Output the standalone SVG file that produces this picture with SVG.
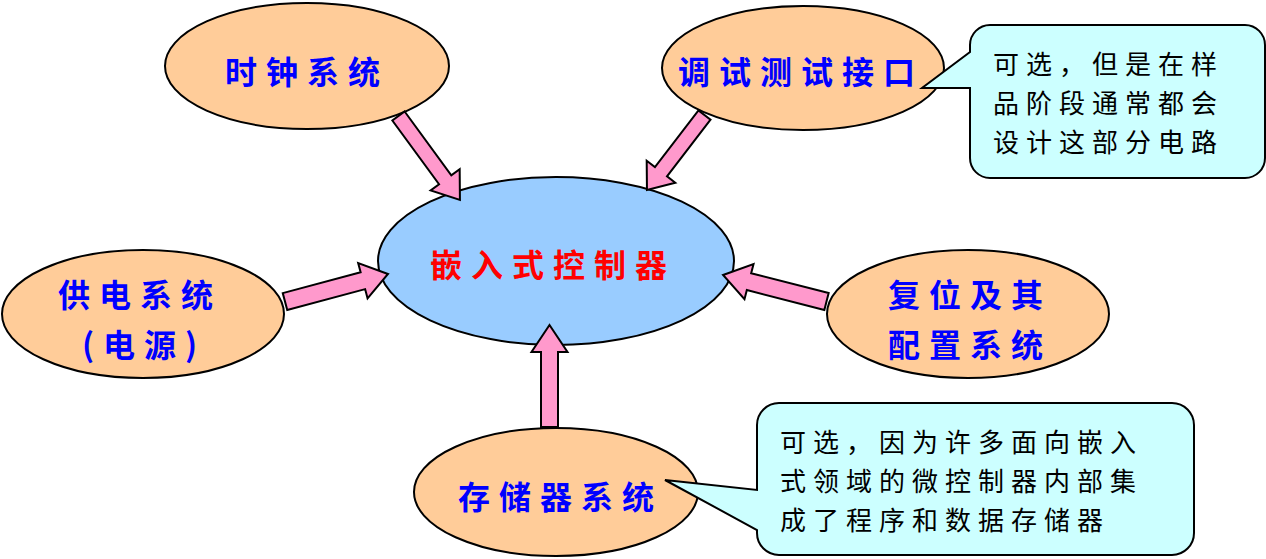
<svg xmlns="http://www.w3.org/2000/svg" width="1266" height="559" viewBox="0 0 1266 559">
<style>
.node{fill:#FFCC99;stroke:#000;stroke-width:2}
.center{fill:#99CCFF;stroke:#000;stroke-width:2}
.callout{fill:#CCFFFF;stroke:#000;stroke-width:2}
.arrow{fill:#FF99CC;stroke:#000;stroke-width:2;stroke-linejoin:miter}
.lbl{font-family:"Noto Sans CJK SC","Noto Sans CJK JP",sans-serif;font-size:32px;font-weight:bold;fill:#0000FF;letter-spacing:9px;dominant-baseline:central}
.red{fill:#FF0000}
.note{font-family:"Noto Sans CJK SC","Noto Sans CJK JP",sans-serif;font-size:26px;fill:#000;letter-spacing:7px;dominant-baseline:central}
</style>
<rect width="1266" height="559" fill="#fff"/>
<g id="clock"><ellipse class="node" cx="307" cy="66" rx="142" ry="63"/><text class="lbl" x="225" y="70">时钟系统</text></g>
<g id="debug"><ellipse class="node" cx="803" cy="68" rx="141" ry="62"/><text class="lbl" x="678" y="70">调试测试接口</text></g>
<g id="controller"><ellipse class="center" cx="556" cy="261" rx="178" ry="84"/><text class="lbl red" x="430" y="263">嵌入式控制器</text></g>
<g id="power"><ellipse class="node" cx="143" cy="314" rx="141" ry="64"/><text class="lbl" x="58" y="293">供电系统</text><text class="lbl" x="82" y="343">(电源)</text></g>
<g id="reset"><ellipse class="node" cx="968" cy="314" rx="141" ry="64"/><text class="lbl" x="888" y="293">复位及其</text><text class="lbl" x="888" y="343">配置系统</text></g>
<g id="memory"><ellipse class="node" cx="556" cy="492" rx="142" ry="64"/><text class="lbl" x="458" y="495">存储器系统</text></g>
<g id="connectors">
<polygon class="arrow" transform="translate(398.5,116) rotate(53.8)" points="0,-7.6 79,-7.6 79,-18 104,0 79,18 79,7.6 0,7.6"/>
<polygon class="arrow" transform="translate(704.5,115) rotate(127.5)" points="0,-7.6 71.5,-7.6 71.5,-18 94.5,0 71.5,18 71.5,7.6 0,7.6"/>
<polygon class="arrow" transform="translate(549.5,427) rotate(-90)" points="0,-8.5 75,-8.5 75,-18 102,0 75,18 75,8.5 0,8.5"/>
<polygon class="arrow" transform="translate(285,301.5) rotate(-14.95)" points="0,-8.7 80.6,-8.7 80.6,-18.2 106.6,0 80.6,18.2 80.6,8.7 0,8.7"/>
<polygon class="arrow" transform="translate(826.5,301.5) rotate(194.4)" points="0,-8.7 80,-8.7 80,-18.2 106.8,0 80,18.2 80,8.7 0,8.7"/>
</g>
<g id="note-debug"><path class="callout" d="M990,25 H1245 A20,20 0 0 1 1265,45 V158 A20,20 0 0 1 1245,178 H990 A20,20 0 0 1 970,158 V88 L922,88 L970,52 V45 A20,20 0 0 1 990,25 Z"/>
<text class="note" x="993" y="62">可选，但是在样</text><text class="note" x="993" y="101">品阶段通常都会</text><text class="note" x="993" y="140">设计这部分电路</text></g>
<g id="note-memory"><path class="callout" d="M779,403 H1172 A22,22 0 0 1 1194,425 V533 A22,22 0 0 1 1172,555 H779 A22,22 0 0 1 757,533 V530 L665,480 L757,490 V425 A22,22 0 0 1 779,403 Z"/>
<text class="note" x="780" y="440">可选，因为许多面向嵌入</text><text class="note" x="780" y="479">式领域的微控制器内部集</text><text class="note" x="780" y="518">成了程序和数据存储器</text></g>
</svg>
